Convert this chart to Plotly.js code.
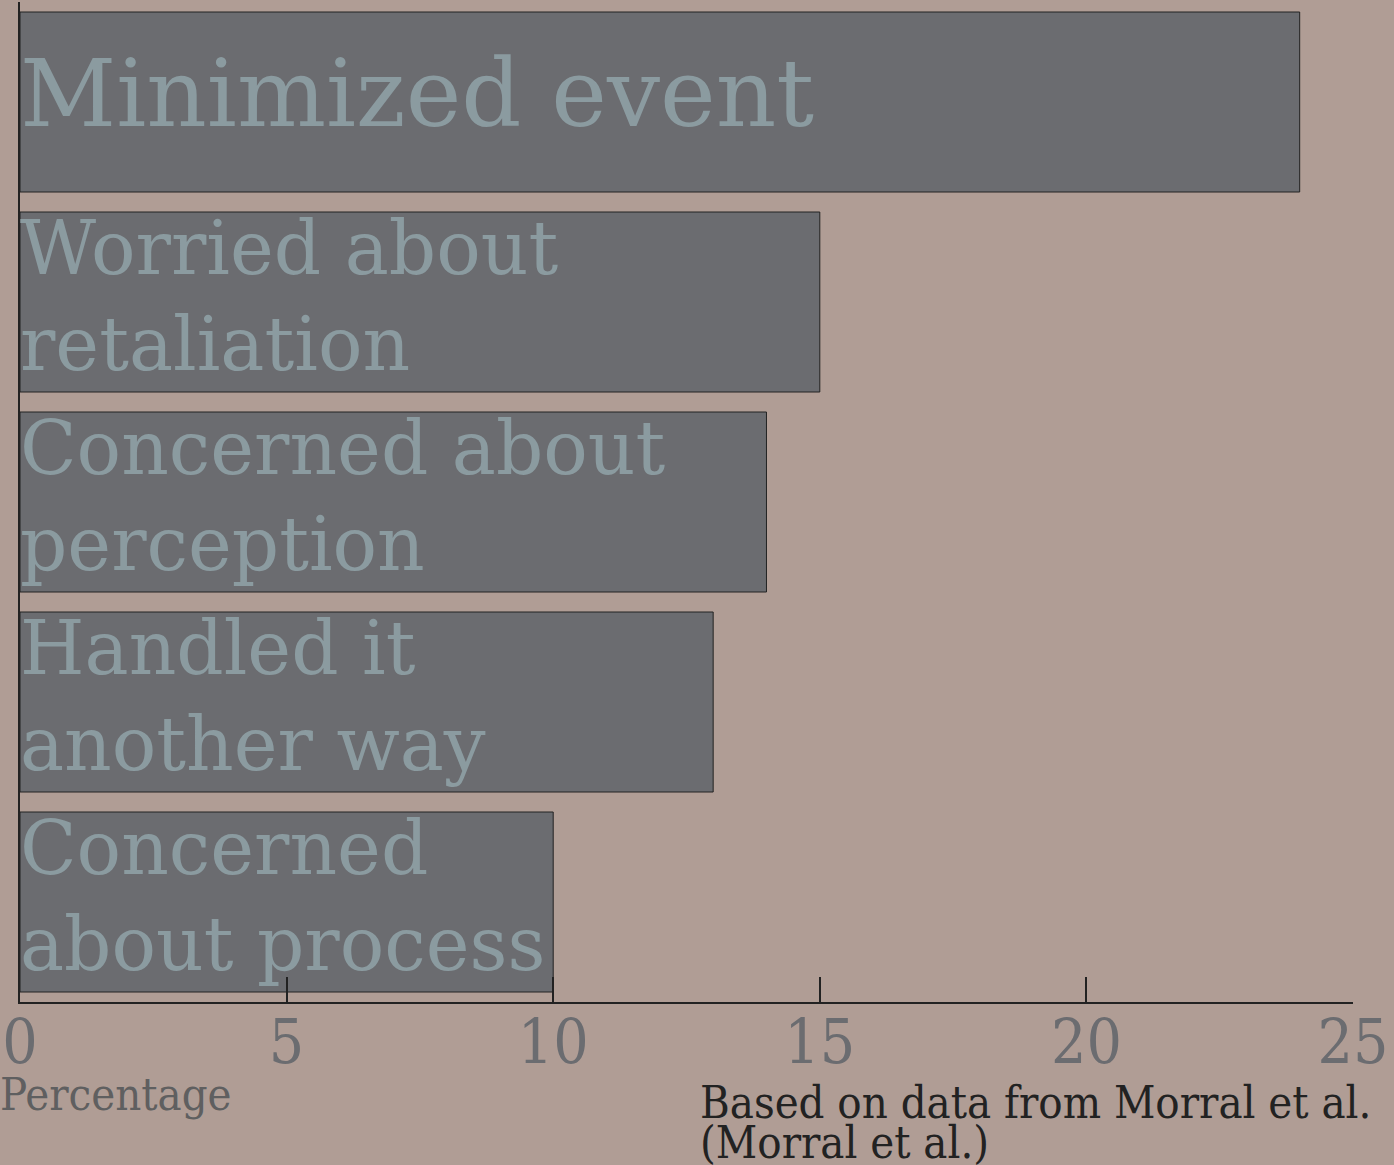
<!DOCTYPE html>
<html>
<head>
<meta charset="utf-8">
<script src="https://cdn.plot.ly/plotly-3.0.1.min.js"></script>
<style>html,body{margin:0;padding:0;background:#b09d95;}#chart{width:1394px;height:1165px;}</style>
</head>
<body>
<div id="chart"></div>
<script>
const categories = ["Minimized event", "Worried about<br>retaliation", "Concerned about<br>perception", "Handled it<br>another way", "Concerned<br>about process"];
const percentages = [24, 15, 14, 13, 10];
const tickValues = [0, 5, 10, 15, 20, 25];
const tickLabels = ["0", "5", "10", "15", "20", "25"];
const xTitle = "Percentage";
const sourceLines = ["Based on data from Morral et al.", "(Morral et al.)"];

const trace = {
  type: "bar",
  orientation: "h",
  y: categories,
  x: percentages,
  marker: {color: "#6b6c70", line: {color: "#222222", width: 1}},
  hoverinfo: "none"
};

const barLabels = categories.map(function (c) {
  const twoLine = c.indexOf("<br>") >= 0;
  return {
    text: c, xref: "x", yref: "y", x: 0, y: c,
    xanchor: "left", yanchor: "middle", align: "left", showarrow: false,
    xshift: -2, yshift: twoLine ? 6 : 9,
    font: {family: "DejaVu Serif", size: twoLine ? 74 : 94, color: "#8b9ba0"}
  };
});

const layout = {
  width: 1394, height: 1165,
  paper_bgcolor: "#b09d95", plot_bgcolor: "#b09d95",
  margin: {l: 20, r: 41, t: 2, b: 163},
  bargap: 0.1,
  showlegend: false,
  xaxis: {
    range: [0, 25], tickvals: tickValues, ticktext: tickLabels,
    ticks: "inside", ticklen: 25, tickwidth: 2, tickcolor: "#222222",
    showline: true, linecolor: "#222222", linewidth: 2,
    showgrid: false, zeroline: false, ticklabelstandoff: -15,
    tickfont: {family: "DejaVu Serif Condensed", size: 62, color: "#6b6c70"}
  },
  yaxis: {
    autorange: "reversed", showticklabels: false, ticks: "",
    showline: true, linecolor: "#222222", linewidth: 2,
    showgrid: false, zeroline: false
  },
  annotations: barLabels.concat([
    {text: xTitle, xref: "paper", yref: "paper", x: -22/1333, y: -92/1000, xanchor: "left", yanchor: "middle", showarrow: false,
     font: {family: "DejaVu Serif Condensed", size: 45, color: "#5f5f60"}},
    {text: sourceLines[0], xref: "paper", yref: "paper", x: 678/1333, y: -100/1000, xanchor: "left", yanchor: "middle", showarrow: false,
     font: {family: "DejaVu Serif Condensed", size: 45, color: "#222222"}},
    {text: sourceLines[1], xref: "paper", yref: "paper", x: 678/1333, y: -140/1000, xanchor: "left", yanchor: "middle", showarrow: false,
     font: {family: "DejaVu Serif Condensed", size: 45, color: "#222222"}}
  ])
};

Plotly.newPlot("chart", [trace], layout, {displayModeBar: false, staticPlot: true});
</script>
</body>
</html>
